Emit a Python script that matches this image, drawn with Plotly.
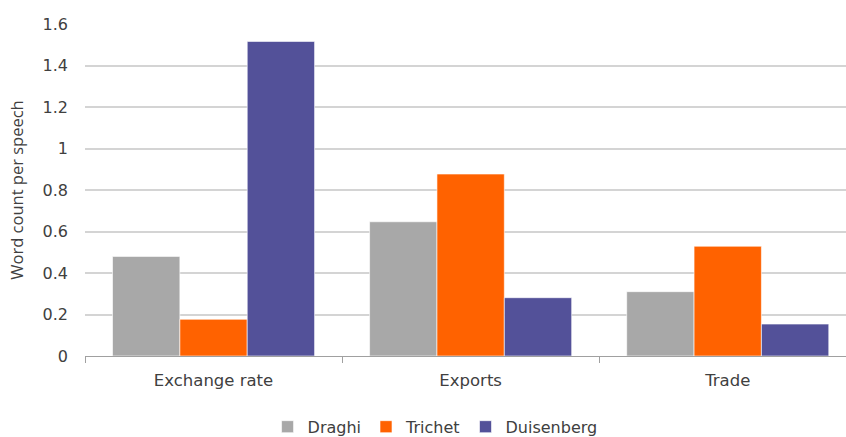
import plotly.graph_objects as go

categories = ["Exchange rate", "Exports", "Trade"]
draghi = [0.48, 0.647, 0.31]
trichet = [0.177, 0.877, 0.529]
duisenberg = [1.516, 0.281, 0.154]
y_ticks = [0, 0.2, 0.4, 0.6, 0.8, 1.0, 1.2, 1.4, 1.6]
y_tick_labels = ["0", "0.2", "0.4", "0.6", "0.8", "1", "1.2", "1.4", "1.6"]

font_family = "'DejaVu Sans', sans-serif"
text_color = "#404040"

fig = go.Figure()
for name, vals, col in [("Draghi", draghi, "#A8A8A8"),
                        ("Trichet", trichet, "#FF6200"),
                        ("Duisenberg", duisenberg, "#535199")]:
    fig.add_trace(go.Bar(x=categories, y=vals, name=name,
                         marker=dict(color=col, line=dict(color="rgba(255,255,255,0.6)", width=1))))

fig.update_layout(
    width=846, height=437,
    margin=dict(l=85, r=0, t=24, b=81, autoexpand=False),
    paper_bgcolor="white", plot_bgcolor="white",
    barmode="group", bargap=0.214, bargroupgap=0,
    font=dict(family=font_family, size=16, color=text_color),
    legend=dict(orientation="h", x=0.46, xanchor="center", y=-0.162, yanchor="top",
                font=dict(size=16, color=text_color), itemwidth=30, traceorder="normal"),
    showlegend=True,
)
fig.update_xaxes(range=[-0.5, 2.46], showline=True, linecolor="#A0A0A0", linewidth=1,
                 ticks="outside", tickson="boundaries", ticklen=6, tickcolor="#A0A0A0",
                 showgrid=False, tickfont=dict(size=16.5, color=text_color),
                 ticklabelstandoff=9, automargin=False)
fig.update_yaxes(range=[0, 1.6], tickvals=y_ticks, ticktext=y_tick_labels,
                 showgrid=True, gridcolor="#D4D4D4", gridwidth=1.5, zeroline=False,
                 title=dict(text="Word count per speech",
                            font=dict(family="'Open Sans', sans-serif", size=16.5, color=text_color),
                            standoff=14),
                 tickfont=dict(size=16, color=text_color), ticks="", ticklabelstandoff=16,
                 automargin=False)
fig.write_html("out.html")
